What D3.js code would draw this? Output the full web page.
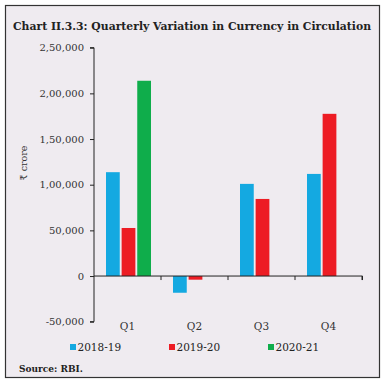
<!DOCTYPE html>
<html lang="en">
<head>
<meta charset="UTF-8">
<script src="https://d3js.org/d3.v7.min.js"></script>
<style>
  body { margin: 0; background: #fff; }
  text { font-family: "DejaVu Serif", "Liberation Serif", serif; }
</style>
</head>
<body>
<script>
// data
var quarters = ["Q1", "Q2", "Q3", "Q4"]
var years = ["2018-19", "2019-20", "2020-21"]
var v2018 = [113700, -18300, 100900, 111800]
var v2019 = [52600, -4000, 84400, 177600]
var v2020 = [213800, null, null, null]
var yTicks = [-50000, 0, 50000, 100000, 150000, 200000, 250000]
var tickLabels = ["-50,000", "0", "50,000", "1,00,000", "1,50,000", "2,00,000", "2,50,000"]
var colors = ["#14a9e1", "#ed1c24", "#0fad4b"]

var series = [v2018, v2019, v2020]

var svg = d3.select("body").append("svg")
    .attr("width", 385)
    .attr("height", 385)

// panel frame
svg.append("rect")
    .attr("x", 5.5).attr("y", 5.5)
    .attr("width", 374).attr("height", 372)
    .attr("fill", "#efebf0")
    .attr("stroke", "#333")
    .attr("stroke-width", 1.2)

svg.append("text")
    .attr("x", 13).attr("y", 30)
    .attr("font-size", 11)
    .attr("font-weight", "bold")
    .attr("fill", "#222")
    .attr("textLength", 358)
    .attr("lengthAdjust", "spacingAndGlyphs")
    .text("Chart II.3.3: Quarterly Variation in Currency in Circulation")

// scales
var x = d3.scaleBand().domain(quarters).range([94, 362])
var xi = d3.scaleBand().domain(years).range([12, 57]).paddingInner(0.12)
var y = d3.scaleLinear().domain([-50000, 250000]).range([321.7, 47.7])

// y axis
var yAxis = svg.append("g")
    .attr("transform", "translate(94,0)")
    .call(d3.axisLeft(y).tickValues(yTicks).tickSize(4).tickPadding(6)
        .tickFormat(function (d, i) { return tickLabels[i] }))
yAxis.select(".domain").attr("stroke", "#222").attr("d", "M-4," + y(250000) + "H0V" + y(-50000) + "H-4")
yAxis.selectAll(".tick line").attr("stroke", "#222")
yAxis.selectAll("text").attr("font-size", 10).attr("fill", "#333")
    .style("font-family", "'DejaVu Serif', serif")

svg.append("text")
    .attr("transform", "translate(27,163) rotate(-90)")
    .attr("text-anchor", "middle")
    .attr("font-size", 9.5)
    .attr("fill", "#333")
    .text("₹ crore")

// bars
quarters.forEach(function (q, qi) {
    series.forEach(function (s, si) {
        var v = s[qi]
        if (v === null) return
        svg.append("rect")
            .attr("x", x(q) + xi(years[si]))
            .attr("width", xi.bandwidth())
            .attr("y", y(Math.max(0, v)))
            .attr("height", Math.abs(y(v) - y(0)))
            .attr("fill", colors[si])
    })
})

// x axis at zero
var xAxis = svg.append("g")
    .attr("transform", "translate(0," + y(0) + ")")
    .call(d3.axisBottom(x).tickSize(4).tickFormat(""))
xAxis.select(".domain").attr("stroke", "#222").attr("d", "M94,0H362.5V4")
xAxis.selectAll(".tick line").attr("stroke", "#222")
    .attr("transform", "translate(" + (x.bandwidth() / 2) + ",0)")

svg.selectAll(".qlabel")
    .data(quarters)
    .join("text")
    .attr("class", "qlabel")
    .attr("x", function (d) { return x(d) + x.bandwidth() / 2 })
    .attr("y", 329.5)
    .attr("text-anchor", "middle")
    .attr("font-size", 10.5)
    .attr("fill", "#333")
    .text(function (d) { return d })

// legend
var legX = [70, 169, 268]
years.forEach(function (yr, i) {
    svg.append("rect")
        .attr("x", legX[i]).attr("y", 344)
        .attr("width", 6).attr("height", 6)
        .attr("fill", colors[i])
    svg.append("text")
        .attr("x", legX[i] + 7.5).attr("y", 351)
        .attr("font-size", 10.5)
        .attr("fill", "#222")
        .text(yr)
})

svg.append("text")
    .attr("x", 19).attr("y", 372)
    .attr("font-size", 9)
    .attr("font-weight", "bold")
    .attr("fill", "#222")
    .text("Source: RBI.")
</script>
</body>
</html>
